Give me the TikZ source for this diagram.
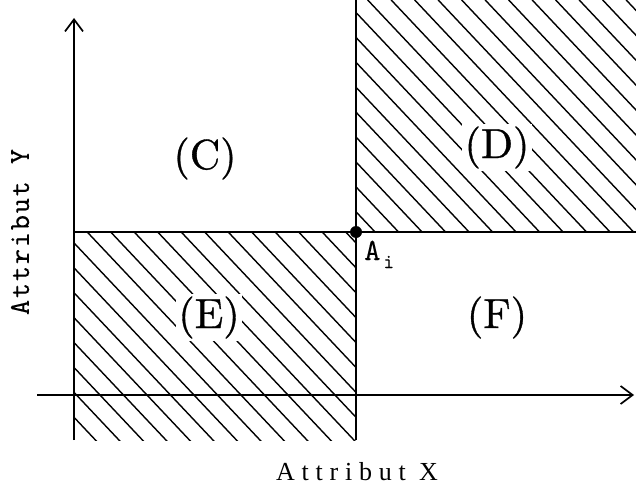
\documentclass[tikz,border=0pt]{standalone}
\usepackage{fontspec}
\usetikzlibrary{arrows.meta}
\newfontfamily\serifX{Liberation Serif}[LetterSpace=26]
\newfontfamily\ttY{lmmono10-regular.otf}[LetterSpace=6,FakeBold=0.15]
\newfontfamily\ttA{lmmono10-regular.otf}[FakeBold=0.15]
\newfontfamily\regfont{lmroman10-regular.otf}[FakeBold=0.8]
\begin{document}
\begin{tikzpicture}[x=1pt,y=-1pt,
  axis/.style={line width=1.7pt},
  hatch/.style={line width=1.4pt},
  region/.style={fill=white, inner sep=2.5pt, font=\regfont\fontsize{42}{44}\selectfont, anchor=base},
  tip/.style={-{Straight Barb[length=12pt,width=18pt]}}]
\useasboundingbox (0,0) rectangle (636,487);
% hatching of D
\begin{scope}
\clip (356,0) rectangle (636,232);
\foreach \i in {-12,...,13} \draw[hatch] (367.7+\i*23.5,0) -- ++(300,318);
\end{scope}
% hatching of E
\begin{scope}
\clip (74,232) rectangle (356,440);
\foreach \i in {-11,...,20} \draw[hatch] (-53.8+\i*23.5,232) -- ++(300,318);
\end{scope}
% region labels
\node[region] (C) at (205,169) {(C)};
\node[region] (D) at (497,158) {(D)};
\node[region] (E) at (209,328) {(E)};
\node[region] (F) at (497,328) {(F)};
% axes and lines
\coordinate (xs) at (37,395); \coordinate (xe) at (634,395);
\coordinate (ys) at (74,440); \coordinate (ye) at (74,18);
\draw[axis,tip] (xs) -- (xe);
\draw[axis,tip] (ys) -- (ye);
\coordinate (vt) at (356,0); \coordinate (vb) at (356,440);
\draw[axis] (vt) -- (vb);
\coordinate (hl) at (74,232); \coordinate (hr) at (636,232);
\draw[axis] (hl) -- (hr);
\node[circle, fill, inner sep=0pt, minimum size=12pt] (Ai) at (356,232) {};
\node[anchor=base west, inner sep=0pt, font=\ttA\fontsize{31}{32}\selectfont] (Ailab) at (364,260) {A\hspace{3pt}\raisebox{-8pt}{\fontsize{20}{20}\selectfont i}};
% axis labels
\node[font=\serifX\fontsize{26}{28}\selectfont] (xlab) at (357,472) {Attribut X};
\node[rotate=90, font=\ttY\fontsize{29}{30}\selectfont] (ylab) at (20,232) {Attribut Y};
\end{tikzpicture}
\end{document}
